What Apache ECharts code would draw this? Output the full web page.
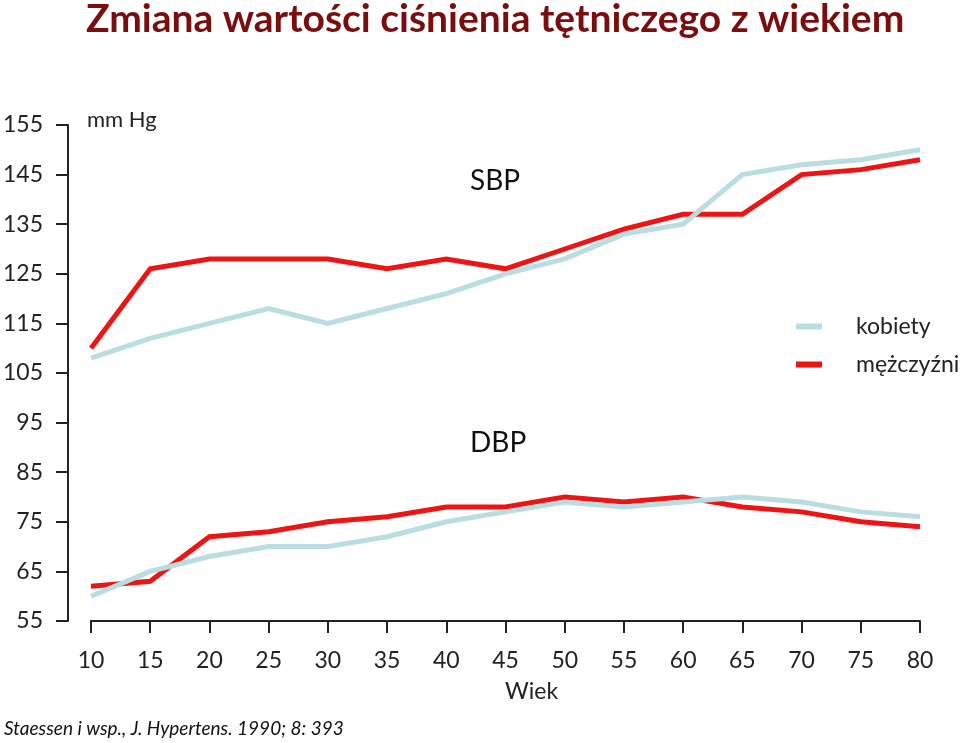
<!DOCTYPE html>
<html>
<head>
<meta charset="utf-8">
<script src="https://cdn.jsdelivr.net/npm/echarts@6/dist/echarts.min.js"></script>
<style>html,body{margin:0;padding:0;background:#fff}#c{width:960px;height:743px}</style>
</head>
<body>
<div id="c"></div>
<script>
var ages = [10,15,20,25,30,35,40,45,50,55,60,65,70,75,80];
var sbpMen   = [110,126,128,128,128,126,128,126,130,134,137,137,145,146,148];
var sbpWomen = [108,112,115,118,115,118,121,125,128,133,135,145,147,148,150];
var dbpMen   = [62,63,72,73,75,76,78,78,80,79,80,78,77,75,74];
var dbpWomen = [60,65,68,70,70,72,75,77,79,78,79,80,79,77,76];
var yTicks = [55,65,75,85,95,105,115,125,135,145,155];
var xTicks = [10,15,20,25,30,35,40,45,50,55,60,65,70,75,80];

var RED = '#ee1414', BLUE = '#b9dde1';
var FONT = 'Lato';
function pairs(vals){ return ages.map(function(a,i){ return [a, vals[i]]; }); }
function line(name, vals, color){
  return { name: name, type: 'line', data: pairs(vals), symbol: 'none',
    lineStyle: { color: color, width: 5, cap: 'butt', join: 'miter' }, itemStyle: { color: color } };
}
var chart = echarts.init(document.getElementById('c'));
chart.setOption({
  animation: false,
  backgroundColor: '#fff',
  textStyle: { fontFamily: FONT },
  grid: { left: 90, right: 40, top: 125, bottom: 122, containLabel: false },
  xAxis: {
    type: 'value', min: 10, max: 80, interval: 5,
    axisLine: { show: true, lineStyle: { color: '#222', width: 2 } },
    axisTick: { show: true, length: 12, lineStyle: { color: '#222', width: 2 }, customValues: xTicks },
    axisLabel: { fontSize: 23, color: '#222', margin: 28, fontFamily: FONT, customValues: xTicks },
    splitLine: { show: false }
  },
  yAxis: {
    type: 'value', min: 55, max: 155, position: 'left', offset: 23,
    axisLine: { show: true, lineStyle: { color: '#222', width: 2 } },
    axisTick: { show: true, length: 12, lineStyle: { color: '#222', width: 2 }, customValues: yTicks },
    axisLabel: { fontSize: 23, color: '#222', margin: 25, fontFamily: FONT, customValues: yTicks },
    splitLine: { show: false }
  },
  legend: {
    orient: 'vertical', left: 791, top: 310, width: 169,
    data: ['kobiety','mężczyźni'],
    icon: 'rect', itemWidth: 26, itemHeight: 6, itemGap: 15,
    textStyle: { fontSize: 23, color: '#222', fontFamily: FONT, padding: [0,0,0,29], overflow: 'none', width: 120 }
  },
  series: [
    line('mężczyźni', sbpMen, RED),
    line('mężczyźni', dbpMen, RED),
    line('kobiety', sbpWomen, BLUE),
    line('kobiety', dbpWomen, BLUE)
  ],
  graphic: [
    { type: 'text', left: 86, top: 0, style: { text: 'Zmiana wartości ciśnienia tętniczego z wiekiem', font: 'bold 39px Lato', fill: '#7a0e0e' } },
    { type: 'text', left: 87, top: 109, style: { text: 'mm Hg', font: '22px Lato', fill: '#222' } },
    { type: 'text', left: 470, top: 167, style: { text: 'SBP', font: '28px Lato', fill: '#111' } },
    { type: 'text', left: 470, top: 429, style: { text: 'DBP', font: '28px Lato', fill: '#111' } },
    { type: 'text', left: 505, top: 680, style: { text: 'Wiek', font: '23px Lato', fill: '#222' } },
    { type: 'text', left: 4, top: 719, style: { text: 'Staessen i wsp., J. Hypertens. 1990; 8: 393', font: 'italic 19px Lato', fill: '#111' } }
  ]
});
</script>
</body>
</html>
